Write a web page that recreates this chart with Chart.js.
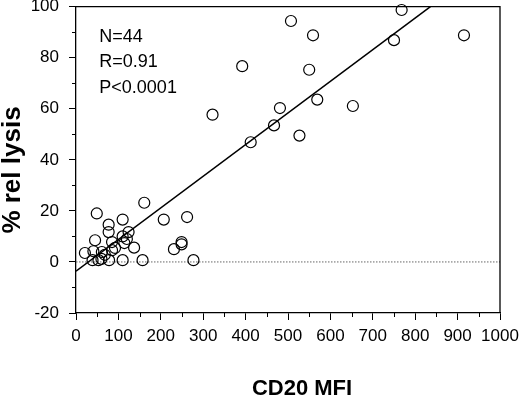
<!DOCTYPE html>
<html><head><meta charset="utf-8">
<script src="https://cdn.jsdelivr.net/npm/chart.js@4/dist/chart.umd.min.js"></script>
<style>html,body{margin:0;padding:0;background:#fff}#wrap{width:520px;height:397px}</style>
</head><body><div id="wrap"><canvas id="c" width="520" height="397"></canvas></div>
<script>
const mfi = [507,559,768,750,915,550,481,569,653,467,527,392,322,412,
  161,49,110,207,262,77,77,124,110,45,85,114,249,249,137,231,21,41,61,85,39,53,78,110,157,277,
  68,92,120,60];
const lysis = [94.4,88.8,98.7,86.9,88.8,75.3,60.3,63.6,61.1,53.5,49.5,76.7,57.7,46.9,
  23.2,19.0,16.6,16.6,17.6,14.6,11.7,11.7,10.0,8.5,7.8,7.4,7.8,6.9,5.6,5.0,3.5,4.2,3.9,4.6,0.7,0.7,0.7,0.7,0.7,0.7,
  2.8,5.5,9.0,1.2];
const fitMfi = [0, 836];
const fitLysis = [-3.6, 100];
const zeroMfi = [0, 1000];
const zeroLysis = [0, 0];
const xTicks = [0,100,200,300,400,500,600,700,800,900,1000];
const yTicks = [-20,0,20,40,60,80,100];
const xMinor = [50,150,250,350,450,550,650,750,850,950];
const yMinor = [-10,10,30,50,70,90];
const statsLines = ['N=44','R=0.91','P<0.0001'];
const xTitle = 'CD20 MFI';
const yTitle = '% rel lysis';

const FONT = "'Liberation Sans', Arial, Helvetica, sans-serif";

const extras = {
  id: 'extras',
  afterDraw(chart) {
    const ctx = chart.ctx;
    const {left, right, top, bottom} = chart.chartArea;
    const xs = chart.scales.x, ys = chart.scales.y;
    ctx.save();
    ctx.strokeStyle = '#000';
    ctx.lineWidth = 1.3;
    ctx.beginPath();
    ctx.moveTo(left, top); ctx.lineTo(right, top); ctx.lineTo(right, bottom);
    ctx.stroke();
    // minor ticks
    ctx.lineWidth = 1;
    ctx.beginPath();
    xMinor.forEach(v => { const p = Math.round(xs.getPixelForValue(v)) + 0.5; ctx.moveTo(p, bottom); ctx.lineTo(p, bottom + 4); });
    yMinor.forEach(v => { const p = Math.round(ys.getPixelForValue(v)) + 0.5; ctx.moveTo(left, p); ctx.lineTo(left - 4, p); });
    ctx.stroke();
    // stats text
    ctx.fillStyle = '#000';
    ctx.font = '18px ' + FONT;
    ctx.textAlign = 'left';
    ctx.textBaseline = 'alphabetic';
    const tx = xs.getPixelForValue(55);
    statsLines.forEach((s, i) => ctx.fillText(s, tx, top + 35 + i * 25.5));
    // axis titles
    ctx.font = 'bold 22px ' + FONT;
    ctx.textAlign = 'center';
    ctx.fillText(xTitle, 302, 395);
    ctx.save();
    ctx.translate(20, 170);
    ctx.rotate(-Math.PI / 2);
    ctx.font = 'bold 26px ' + FONT;
    ctx.fillText(yTitle, 0, 0);
    ctx.restore();
    ctx.restore();
  }
};

new Chart(document.getElementById('c'), {
  type: 'scatter',
  data: {
    datasets: [
      {
        type: 'line', data: zeroMfi.map((x, i) => ({x, y: zeroLysis[i]})),
        borderColor: '#666', borderWidth: 1, borderDash: [1.5, 1.5], pointRadius: 0, showLine: true, order: 3
      },
      {
        type: 'line', data: fitMfi.map((x, i) => ({x, y: fitLysis[i]})),
        borderColor: '#000', borderWidth: 1.5, pointRadius: 0, showLine: true, order: 2
      },
      {
        data: mfi.map((x, i) => ({x, y: lysis[i]})),
        pointStyle: 'circle', pointRadius: 5.5, borderColor: '#000', borderWidth: 1.2,
        backgroundColor: 'rgba(0,0,0,0)', clip: false, order: 1
      }
    ]
  },
  options: {
    responsive: false, animation: false, devicePixelRatio: 1,
    layout: { padding: { top: 5, right: 20, left: 0, bottom: 0 } },
    plugins: { legend: { display: false }, tooltip: { enabled: false } },
    scales: {
      x: {
        type: 'linear', min: 0, max: 1000,
        afterBuildTicks: s => { s.ticks = xTicks.map(v => ({value: v})); },
        afterFit: s => { s.height = 84; s.paddingLeft = 0; s.paddingRight = 0; },
        grid: { display: true, drawOnChartArea: false, drawTicks: true, tickLength: 7, color: '#000', tickColor: '#000', tickWidth: 1 },
        border: { display: true, color: '#000', width: 1.3 },
        ticks: { color: '#000', font: { family: FONT, size: 17 }, padding: 6, maxRotation: 0, autoSkip: false,
                 callback: v => String(v) }
      },
      y: {
        type: 'linear', min: -20, max: 100,
        afterBuildTicks: s => { s.ticks = yTicks.map(v => ({value: v})); },
        afterFit: s => { s.width = 76; s.paddingTop = 0; s.paddingBottom = 0; },
        grid: { display: true, drawOnChartArea: false, drawTicks: true, tickLength: 7, color: '#000', tickColor: '#000', tickWidth: 1 },
        border: { display: true, color: '#000', width: 1.3 },
        ticks: { color: '#000', font: { family: FONT, size: 17 }, padding: 10, autoSkip: false,
                 callback: v => String(v) }
      }
    }
  },
  plugins: [extras]
});
</script>
</body></html>
